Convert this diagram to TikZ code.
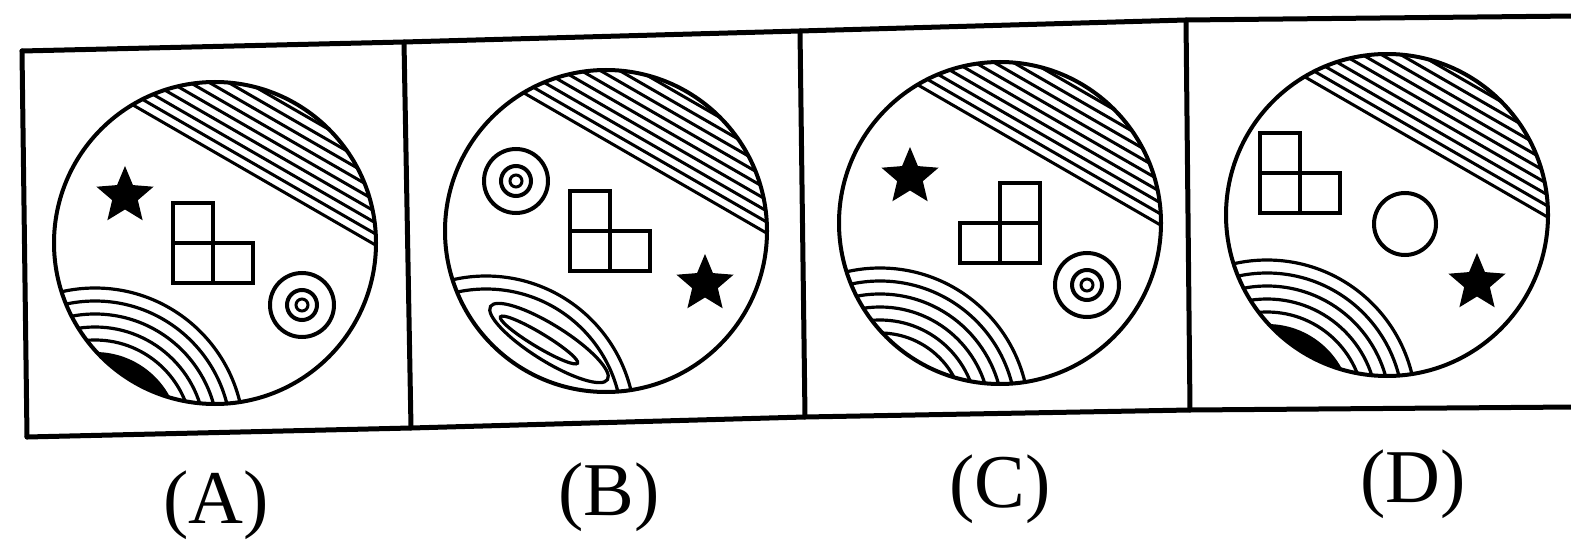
\documentclass[tikz,border=0pt]{standalone}
\usepackage{fontspec}
\setmainfont{Liberation Serif}
\begin{document}
\begin{tikzpicture}[x=1pt,y=1pt,
  frameline/.style={line width=5pt, line join=round, line cap=round},
  ring/.style={line width=4pt},
  hatchline/.style={line width=3pt},
  arcline/.style={line width=3.2pt},
  sqline/.style={line width=3.6pt},
  lbl/.style={font=\fontsize{76}{80}\selectfont, inner sep=0pt},
  pics/hatchcap/.style={code={
    \begin{scope}
      \clip (0,0) circle (161);
      \foreach \k in {0,...,8}
        \draw[hatchline, shift={(60:{78.5+\k*9.6})}] (-30:190) -- (150:190);
    \end{scope}}},
  pics/bstar/.style={code={
    \fill (90:30) -- (126:13.5) -- (162:30) -- (198:13.5) -- (234:30) -- (270:13.5)
      -- (306:30) -- (342:13.5) -- (18:30) -- (54:13.5) -- cycle;}},
  pics/target/.style={code={
    \draw[ring] (0,0) circle (32);
    \draw[ring] (0,0) circle (15);
    \draw[line width=3pt] (0,0) circle (6);}},
  pics/arcs/.style={code={
    \begin{scope}
      \clip (0,0) circle (161);
      \foreach \R in {149,136,123,110,97}
        \draw[arcline] (-120,-194) circle (\R);
      \fill (-120,-194) circle (85);
    \end{scope}}},
  pics/arcsopen/.style={code={
    \begin{scope}
      \clip (0,0) circle (161);
      \foreach \R in {149,136,123,110,97,84}
        \draw[arcline] (-120,-194) circle (\R);
    \end{scope}}},
  pics/arcsloop/.style={code={
    \begin{scope}
      \clip (0,0) circle (161);
      \foreach \R in {149,136}
        \draw[arcline] (-120,-194) circle (\R);
      \draw[arcline, rotate around={-32:(-57,-112)}] (-57,-112) ellipse (69 and 18);
      \draw[arcline, rotate around={-31:(-67,-109)}] (-67,-109) ellipse (45 and 7);
    \end{scope}}}
]
\useasboundingbox[fill=white] (0,0) rectangle (1571,539);

% frame
\coordinate (t0) at (22,488);
\coordinate (t1) at (404,497);
\coordinate (t2) at (800,508);
\coordinate (t3) at (1186,519);
\coordinate (t4) at (1575,523);
\coordinate (b0) at (27,102);
\coordinate (b1) at (411,111);
\coordinate (b2) at (805,122);
\coordinate (b3) at (1190,129);
\coordinate (b4) at (1575,132);
\draw[frameline] (t0) -- (t1) -- (t2) -- (t3) -- (t4);
\draw[frameline] (b0) -- (b1) -- (b2) -- (b3) -- (b4);
\draw[frameline] (t0) -- (b0);
\draw[frameline] (t1) -- (b1);
\draw[frameline] (t2) -- (b2);
\draw[frameline] (t3) -- (b3);

% panel A
\begin{scope}[shift={(215,296)}]
  \coordinate (cA) at (0,0);
  \pic at (cA) {hatchcap};
  \pic at (cA) {arcs};
  \pic at (-90,47) {bstar};
  \draw[sqline] (-42,0) rectangle (-2,40);
  \draw[sqline] (-42,-40) rectangle (-2,0);
  \draw[sqline] (-2,-40) rectangle (38,0);
  \pic at (87,-62) {target};
  \draw[ring] (cA) circle (161);
\end{scope}

% panel B
\begin{scope}[shift={(606,308)}]
  \coordinate (cB) at (0,0);
  \pic at (cB) {hatchcap};
  \pic at (cB) {arcsloop};
  \pic at (-90,50) {target};
  \draw[sqline] (-36,0) rectangle (4,40);
  \draw[sqline] (-36,-40) rectangle (4,0);
  \draw[sqline] (4,-40) rectangle (44,0);
  \pic at (99,-53) {bstar};
  \draw[ring] (cB) circle (161);
\end{scope}

% panel C
\begin{scope}[shift={(1000,316)}]
  \coordinate (cC) at (0,0);
  \pic at (cC) {hatchcap};
  \pic at (cC) {arcsopen};
  \pic at (-90,46) {bstar};
  \draw[sqline] (0,0) rectangle (40,40);
  \draw[sqline] (-40,-40) rectangle (0,0);
  \draw[sqline] (0,-40) rectangle (40,0);
  \pic at (87,-62) {target};
  \draw[ring] (cC) circle (161);
\end{scope}

% panel D
\begin{scope}[shift={(1387,324)}]
  \coordinate (cD) at (0,0);
  \pic at (cD) {hatchcap};
  \pic at (cD) {arcs};
  \draw[sqline] (-127,42) rectangle (-87,82);
  \draw[sqline] (-127,2) rectangle (-87,42);
  \draw[sqline] (-87,2) rectangle (-47,42);
  \draw[ring] (18,-9) circle (31);
  \pic at (90,-68) {bstar};
  \draw[ring] (cD) circle (161);
\end{scope}

% labels
\node[lbl] (lA) at (216,34) {(A)};
\node[lbl] (lB) at (609,42) {(B)};
\node[lbl] (lC) at (1000,50) {(C)};
\node[lbl] (lD) at (1413,55) {(D)};
\end{tikzpicture}
\end{document}
